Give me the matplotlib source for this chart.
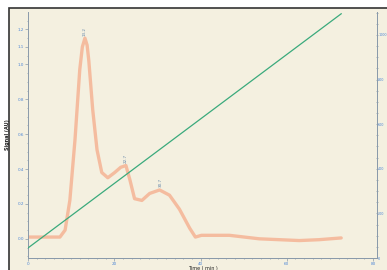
import numpy as np
import matplotlib.pyplot as plt
from matplotlib.patches import Rectangle

# chromatogram trace (time in min, absorbance)
time = [0, 7.4, 8.6, 9.7, 10.9, 12.0, 12.6, 13.2, 13.7, 14.1, 15.0, 16.0, 17.1, 18.5, 20.1,
        21.5, 22.7, 23.6, 24.7, 26.4, 28.2, 30.5, 32.8, 35.1, 37.5, 38.8, 40.2,
        46.7, 53.6, 62.9, 67.5, 72.6]
signal = [0.01, 0.01, 0.05, 0.22, 0.57, 0.97, 1.10, 1.15, 1.11, 1.02, 0.74, 0.51, 0.38, 0.35, 0.38,
          0.41, 0.42, 0.34, 0.23, 0.22, 0.26, 0.28, 0.25, 0.17, 0.06, 0.01, 0.02,
          0.02, 0.0, -0.01, -0.005, 0.005]

# gradient line (right axis)
grad_time = [0, 72.6]
grad_val = [45, 1095]

# peak labels
peak_time = [13.2, 22.7, 30.7]
peak_val = [1.15, 0.42, 0.28]
peak_text = ['13.2', '22.7', '30.7']

left_ticks = [0.0, 0.2, 0.4, 0.6, 0.8, 1.0, 1.1, 1.2]
right_ticks = [0, 200, 400, 600, 800, 1000]
x_ticks = [0, 20, 40, 60, 80]

bg = '#f4f0e0'
blue = '#4d86d6'

fig = plt.figure(figsize=(3.87, 2.70), dpi=100, facecolor='white')
# screenshot frame
fig.patches.append(Rectangle((9/387, -0.1), 1.2, 1 - 8/270 + 0.1, transform=fig.transFigure,
                             facecolor=bg, edgecolor='#333333', linewidth=1.2, zorder=-5))

ax = fig.add_axes([28/387, 1 - 258/270, 349/387, 246/270])
ax.set_facecolor(bg)
ax.plot(time, signal, color='#f4ab8a', lw=2.4, alpha=0.75,
        solid_capstyle='round', solid_joinstyle='round')
ax.set_xlim(0, 80.9)
ax.set_ylim(-0.11, 1.30)
ax.set_yticks(left_ticks)
ax.set_yticklabels(['%.1f' % v for v in left_ticks])
ax.set_xticks(x_ticks)
ax.set_xticks(np.arange(0, 81, 2), minor=True)
ax.set_yticks(np.arange(-0.1, 1.3, 0.05), minor=True)
ax.set_ylabel('Signal (AU)', fontsize=3.5, color='#222222', labelpad=5, fontweight='bold')
ax.set_xlabel('Time ( min )', fontsize=3.5, color='#222222')
ax.xaxis.set_label_coords(0.5, -0.034)

for t, v, s in zip(peak_time, peak_val, peak_text):
    ax.text(t, v + 0.015, s, rotation=90, fontsize=3, color='#6688aa', ha='center', va='bottom')

ax2 = ax.twinx()
ax2.plot(grad_time, grad_val, color='#3aaa7c', lw=0.9)
ax2.set_ylim(0, 1103)
ax2.set_yticks(right_ticks)
ax2.set_yticks(np.arange(0, 1101, 50), minor=True)

for a in (ax, ax2):
    a.spines['top'].set_visible(False)
    for s in ('left', 'right', 'bottom'):
        a.spines[s].set_color('#8a9aaa')
        a.spines[s].set_linewidth(0.7)
    a.tick_params(which='both', colors='#8a9aaa', labelcolor=blue, labelsize=3,
                  length=2, width=0.5, pad=1)
    a.tick_params(which='minor', length=1)
ax2.spines['left'].set_visible(False)
ax2.tick_params(axis='y', which='both', direction='inout', length=1.5, pad=0.1, labelsize=2.4)

fig.savefig('out.png', dpi=100, facecolor='white')
